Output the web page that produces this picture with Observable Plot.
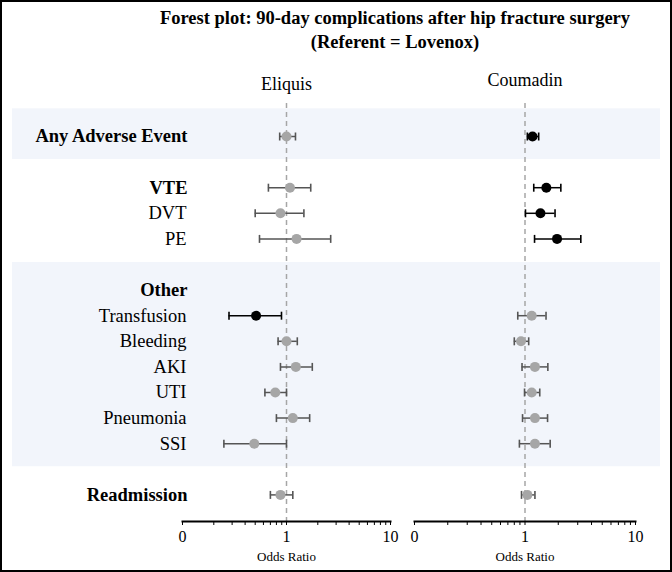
<!DOCTYPE html>
<html><head><meta charset="utf-8">
<script src="https://cdn.jsdelivr.net/npm/d3@7"></script>
<script src="https://cdn.jsdelivr.net/npm/@observablehq/plot@0.6"></script>
<style>
body{margin:0;background:#fff;}
#chart{position:relative;width:672px;height:572px;overflow:hidden;font-family:"Liberation Serif","Times New Roman",serif;background:#fff;color:#000;}
#chart svg{position:absolute;left:0;top:0;}
#title{position:absolute;left:395px;top:6px;transform:translateX(-50%);text-align:center;font-weight:bold;font-size:18.5px;line-height:24px;white-space:nowrap;}
#border{position:absolute;left:0;top:0;width:672px;height:572px;border:2px solid #000;box-sizing:border-box;pointer-events:none;}
</style></head><body>
<div id="chart"><div id="title">Forest plot: 90-day complications after hip fracture surgery<br>(Referent = Lovenox)</div><div id="border"></div></div>
<script>
// ---- data ----
const rowLabels = ["Any Adverse Event","","VTE","DVT","PE","","Other","Transfusion","Bleeding","AKI","UTI","Pneumonia","SSI","","Readmission"];
const boldLabels = ["Any Adverse Event","VTE","Other","Readmission"];
const outcomes = ["Any Adverse Event","VTE","DVT","PE","Transfusion","Bleeding","AKI","UTI","Pneumonia","SSI","Readmission"];
const drugs = ["Eliquis","Coumadin"];
const eliquisOR = [1.00,1.08,0.875,1.25,0.51,1.00,1.23,0.78,1.15,0.49,0.875];
const eliquisLo = [0.86,0.67,0.50,0.55,0.28,0.83,0.875,0.62,0.80,0.25,0.70];
const eliquisHi = [1.22,1.71,1.47,2.66,0.895,1.27,1.77,1.00,1.67,1.00,1.15];
const coumadinOR = [1.17,1.56,1.38,1.95,1.15,0.92,1.23,1.15,1.23,1.23,1.05];
const coumadinLo = [1.05,1.20,1.01,1.22,0.86,0.80,0.94,0.99,0.95,0.89,0.93];
const coumadinHi = [1.33,2.11,1.87,3.20,1.55,1.08,1.61,1.36,1.60,1.69,1.23];
const bandGroups = [["Any Adverse Event","Any Adverse Event"],["Other","SSI"]];
const tickValues = [0.1,0.2,0.3,0.4,0.5,0.6,0.7,0.8,0.9,1,2,3,4,5,6,7,8,9,10];
const labeledTicks = [0.1,1,10];
const tickText = ["0","1","10"];
const axisTitle = "Odds Ratio";

// ---- chart ----
const W = 672, H = 572;
const FONT = '"Liberation Serif","Times New Roman",serif';
const yScale = {domain:[0, rowLabels.length-1], range:[136, 494.4], axis:null};
const rowOf = l => rowLabels.indexOf(l);
const capSymbol = {draw(ctx, size){ const h = Math.sqrt(size/Math.PI); ctx.moveTo(0,-h); ctx.lineTo(0,h); }};
const chart = document.getElementById("chart");
const border = document.getElementById("border");

const bg = Plot.plot({
  width: W, height: H, marginLeft: 12, marginRight: 12, marginTop: 0, marginBottom: 0,
  y: yScale,
  style: {background:"transparent"},
  marks: [
    Plot.rect(bandGroups, {y1: g => rowOf(g[0]) - 1.08, y2: g => rowOf(g[1]) + 0.9, fill: "#f2f5fb"})
  ]
});
chart.insertBefore(bg, border);

function panel(name, or, lo, hi, ml, mr, headDy, withLabels) {
  const data = outcomes.map((o,i) => ({o, row: rowOf(o), or: or[i], lo: lo[i], hi: hi[i], sig: lo[i] > 1 || hi[i] < 1}));
  const marks = [
    Plot.ruleX([1], {stroke:"#a6a6a6", strokeWidth:1.5, strokeDasharray:"5,4"}),
    Plot.frame({anchor:"bottom", stroke:"#000", strokeWidth:2}),
    Plot.ruleY(data, {y:"row", x1:"lo", x2:"hi", stroke: d => d.sig ? "#000" : "#555", strokeWidth:1.5}),
    Plot.dot(data, {x:"lo", y:"row", symbol: capSymbol, r:4, stroke: d => d.sig ? "#000" : "#555", strokeWidth:1.6}),
    Plot.dot(data, {x:"hi", y:"row", symbol: capSymbol, r:4, stroke: d => d.sig ? "#000" : "#555", strokeWidth:1.6}),
    Plot.dot(data, {x:"or", y:"row", r:5, fill: d => d.sig ? "#000" : "#a6a6a6", stroke:"none"}),
    Plot.text([name], {frameAnchor:"top", lineAnchor:"middle", dy: headDy, fontSize:18, fontFamily: FONT}),
    Plot.text([axisTitle], {frameAnchor:"bottom", lineAnchor:"middle", dy: 35, fontSize:13, fontFamily: FONT})
  ];
  if (withLabels) {
    const labs = rowLabels.filter(l => l);
    marks.push(
      Plot.text(labs.filter(l => !boldLabels.includes(l)), {y: rowOf, text: d => d, frameAnchor:"left", textAnchor:"end", dx:4, fontSize:18.5, fontFamily: FONT}),
      Plot.text(labs.filter(l => boldLabels.includes(l)), {y: rowOf, text: d => d, frameAnchor:"left", textAnchor:"end", dx:5, fontSize:18.5, fontWeight:"bold", fontFamily: FONT})
    );
  }
  return Plot.plot({
    width: W, height: H, marginLeft: ml, marginRight: mr, marginTop: 103, marginBottom: 51,
    x: {type:"log", domain:[0.1,10], ticks: tickValues, tickSize: 4, tickPadding: 5, label: null,
        tickFormat: d => { const i = labeledTicks.indexOf(d); return i >= 0 ? tickText[i] : ""; }},
    y: yScale,
    style: {background:"transparent", fontFamily: FONT, fontSize:"16px", color:"#000"},
    marks
  });
}

chart.insertBefore(panel(drugs[0], eliquisOR, eliquisLo, eliquisHi, 182, 282, -19, true), border);
chart.insertBefore(panel(drugs[1], coumadinOR, coumadinLo, coumadinHi, 414, 37, -23, false), border);
</script>
</body></html>
